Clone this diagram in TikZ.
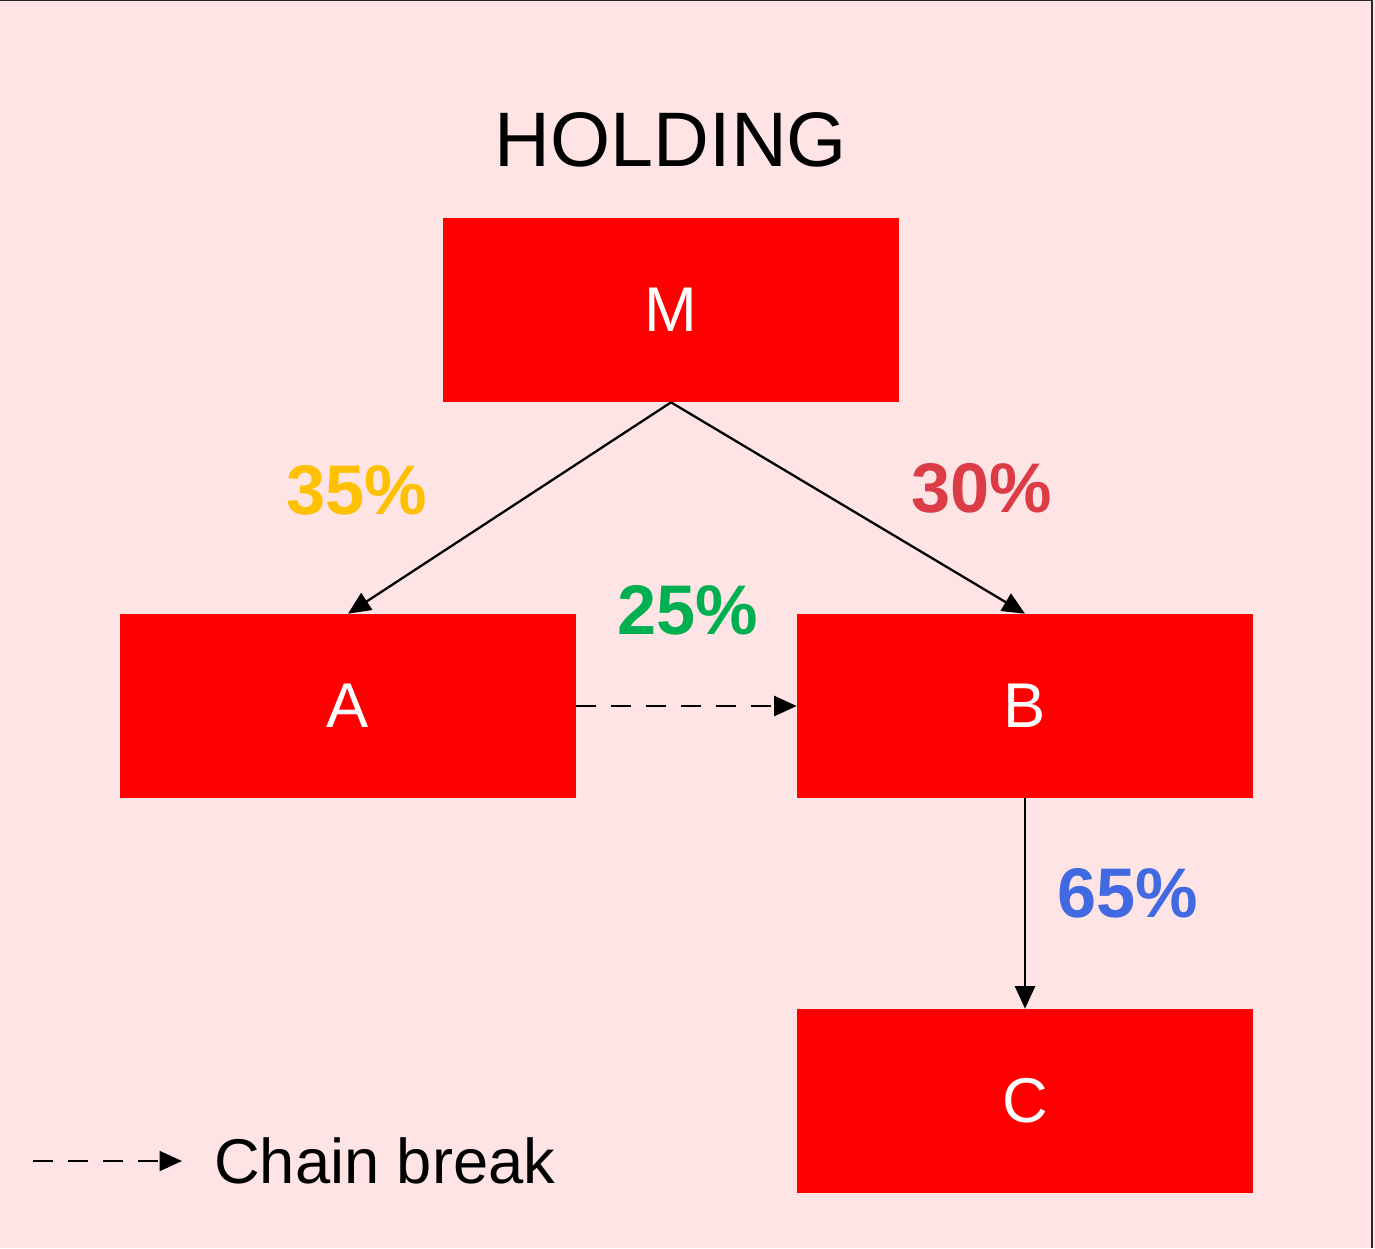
\documentclass[tikz,border=0pt]{standalone}
\usepackage{fontspec}
\setmainfont{Liberation Sans}
\usetikzlibrary{arrows.meta}
\usetikzlibrary{positioning}
\definecolor{bgpink}{HTML}{FFE4E6}
\definecolor{pctyellow}{HTML}{FFC000}
\definecolor{pctred}{HTML}{DC3C46}
\definecolor{pctgreen}{HTML}{00B050}
\definecolor{pctblue}{HTML}{4169E1}

\begin{document}
\begin{tikzpicture}[x=0.02cm,y=-0.02cm,
        >={Triangle[length=4.5mm,width=4mm]},
        box/.style = {fill=red,text=white,minimum width=9.12cm,
            minimum height=3.68cm,font=\fontsize{36}{40}\selectfont},
        pct/.style = {font=\bfseries\fontsize{40}{44}\selectfont},
        link/.style = {->,line width=1.3pt}]
    \fill[bgpink] (0,0) rectangle (1375,1248);
    \useasboundingbox (0,0) rectangle (1375,1248);
    \draw[line width=1.5pt,black!85] (0,0) -- (1372,0) -- (1372,1248);
    \node[font=\fontsize{44}{48}\selectfont] (title) at (671,140) {HOLDING};
    \node[box] (M) at (671,310) {M};
    \node[box] (A) at (348,706) {A};
    \node[box] (B) at (1025,706) {B};
    \node[box] (C) at (1025,1101) {C};
    \draw[link] (M.south) -- (A.north);
    \draw[link] (M.south) -- (B.north);
    \draw[link,dashed,dash pattern=on 4mm off 3mm] (A.east) -- (B.west);
    \draw[link] (B.south) -- (C.north);
    \node[pct,text=pctyellow] (p35) at (357,490) {35\%};
    \node[pct,text=pctred] (p30) at (982,488) {30\%};
    \node[pct,text=pctgreen] (p25) at (688,610) {25\%};
    \node[pct,text=pctblue] (p65) at (1128,893) {65\%};
    % legend
    \coordinate (l1) at (33,1161);
    \coordinate (l2) at (182,1161);
    \draw[link,dash pattern=on 4mm off 3mm] (l1) -- (l2);
    \node[anchor=west,font=\fontsize{36}{40}\selectfont] (leg) at (208,1161) {Chain break};
\end{tikzpicture}
\end{document}
